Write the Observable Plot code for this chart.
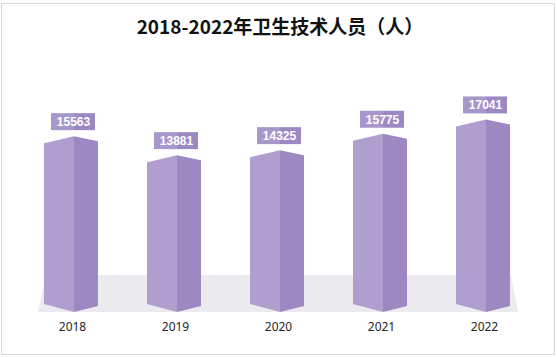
<!DOCTYPE html>
<html>
<head>
<meta charset="utf-8">
<script src="https://cdn.jsdelivr.net/npm/d3@7"></script>
<script src="https://cdn.jsdelivr.net/npm/@observablehq/plot@0.6"></script>
<style>
  html, body { margin: 0; padding: 0; background: #fff; }
  #chart { width: 557px; height: 357px; }
</style>
</head>
<body>
<div id="chart"></div>
<script>
const title = "2018-2022年卫生技术人员（人）";
const years = ["2018", "2019", "2020", "2021", "2022"];
const values = [15563, 13881, 14325, 15775, 17041];
const yDomain = [0, 20000];

const data = years.map((year, i) => ({year, value: values[i]}));

const LEFT_W = 30, RIGHT_W = 24, TOP_L = 7, TOP_R = 5, BOT_L = 8, BOT_R = 6;
const SVGNS = "http://www.w3.org/2000/svg";

function poly(g, pts, fill) {
  const p = document.createElementNS(SVGNS, "polygon");
  p.setAttribute("points", pts.map(d => d.join(",")).join(" "));
  p.setAttribute("fill", fill);
  g.appendChild(p);
}

// floor
const floor = (index, scales) => {
  const g = document.createElementNS(SVGNS, "g");
  const x0 = scales.x(years[0]), x1 = scales.x(years[years.length - 1]);
  const base = scales.y(0);
  poly(g, [[x0 - 36, base], [x1 + 32, base], [x1 + 25, base - 37], [x0 - 28, base - 37]], "#ebeaee");
  return g;
};

// prisms
const prisms = (index, scales) => {
  const g = document.createElementNS(SVGNS, "g");
  const base = scales.y(0);
  for (const d of data) {
    const cx = scales.x(d.year), top = scales.y(d.value);
    poly(g, [[cx - LEFT_W, top + TOP_L], [cx, top], [cx, base], [cx - LEFT_W, base - BOT_L]], "#b09fce");
    poly(g, [[cx, top], [cx + RIGHT_W, top + TOP_R], [cx + RIGHT_W, base - BOT_R], [cx, base]], "#9e88c2");
  }
  return g;
};

// label boxes
const boxes = (index, scales) => {
  const g = document.createElementNS(SVGNS, "g");
  for (const d of data) {
    const cx = scales.x(d.year) - 1, top = scales.y(d.value);
    const yb = top - 6, yt = yb - 17;
    poly(g, [[cx - 22, yt], [cx + 1, yt], [cx + 1, yb], [cx - 22, yb]], "#a897cb");
    poly(g, [[cx + 1, yt], [cx + 22, yt], [cx + 22, yb], [cx + 1, yb]], "#9c89c4");
  }
  return g;
};

const chart = Plot.plot({
  width: 557,
  height: 357,
  marginLeft: 20,
  marginRight: 18,
  marginTop: 86,
  marginBottom: 45,
  style: {background: "#fff", fontFamily: "'Noto Sans', sans-serif", fontSize: "12px", color: "#333", overflow: "visible"},
  x: {type: "point", domain: years, padding: 0.5, label: null, tickSize: 0, tickPadding: 10},
  y: {domain: yDomain, axis: null},
  marks: [
    floor,
    prisms,
    boxes,
    Plot.text(data, {x: "year", y: "value", text: d => String(d.value), dx: -1, dy: -14.5, fill: "#fff",
      fontWeight: "bold", fontSize: 12, fontFamily: "'Liberation Sans', Arial, sans-serif", lineAnchor: "middle"}),
    Plot.axisX({tickSize: 0, tickPadding: 10, dx: -2, fontSize: 12, fill: "#262626"}),
    Plot.text([title], {frameAnchor: "top", text: d => d, dy: -59, lineAnchor: "middle", fontSize: 19,
      fontWeight: "bold", fill: "#111", fontFamily: "'Noto Sans CJK SC', sans-serif"})
  ]
});

// outer border
const border = document.createElementNS(SVGNS, "rect");
border.setAttribute("x", 1.5); border.setAttribute("y", 3.5);
border.setAttribute("width", 553); border.setAttribute("height", 351);
border.setAttribute("fill", "none"); border.setAttribute("stroke", "#d9d9d9");
chart.appendChild(border);

document.getElementById("chart").appendChild(chart);
</script>
</body>
</html>
